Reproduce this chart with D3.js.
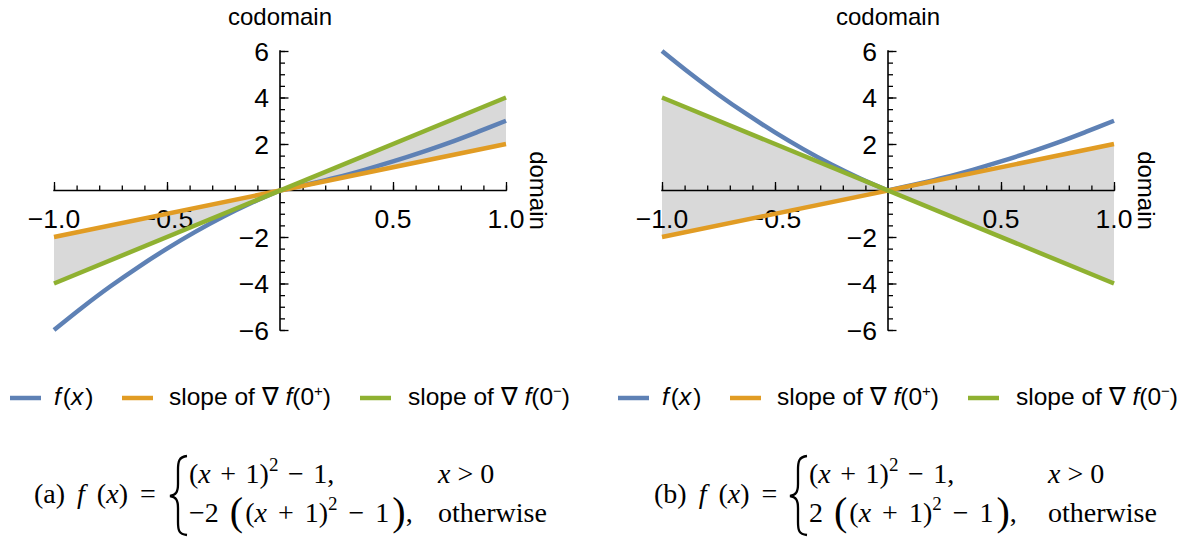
<!DOCTYPE html>
<html>
<head>
<meta charset="utf-8">
<script src="https://cdn.jsdelivr.net/npm/d3@7"></script>
<style>
  body { margin: 0; background: #fff; }
  svg { display: block; }
  .sans { font-family: "Liberation Sans", Arial, sans-serif; }
  .serif { font-family: "Liberation Serif", "Times New Roman", serif; }
</style>
</head>
<body>
<div id="vis"></div>
<script>
const SVG = d3.select("#vis").append("svg");
const WIDTH = 1186, HEIGHT = 537;
SVG.attr("width", WIDTH).attr("height", HEIGHT);

// datos
const xTickMajor = [-1, -0.5, 0.5, 1];
const xTickLabels = ["\u22121.0", "\u22120.5", "0.5", "1.0"];
const xTickMinor = [-1, -0.9, -0.8, -0.7, -0.6, -0.5, -0.4, -0.3, -0.2, -0.1, 0.1, 0.2, 0.3, 0.4, 0.5, 0.6, 0.7, 0.8, 0.9, 1];
const yTickMajor = [-6, -4, -2, 2, 4, 6];
const yTickLabels = ["\u22126", "\u22124", "\u22122", "2", "4", "6"];
const yTickMinor = [-6, -5.5, -5, -4.5, -4, -3.5, -3, -2.5, -2, -1.5, -1, -0.5, 0.5, 1, 1.5, 2, 2.5, 3, 3.5, 4, 4.5, 5, 5.5, 6];

// f(x) muestreada, rama negativa y rama positiva
const fNegX = [-1, -0.875, -0.75, -0.625, -0.5, -0.375, -0.25, -0.125, 0];
const fNegA = [-6, -5.03, -4.12, -3.28, -2.5, -1.78, -1.12, -0.53, 0];
const fNegB = [6, 5.03, 4.12, 3.28, 2.5, 1.78, 1.12, 0.53, 0];
const fPosX = [0, 0.125, 0.25, 0.375, 0.5, 0.625, 0.75, 0.875, 1];
const fPos = [0, 0.27, 0.56, 0.89, 1.25, 1.64, 2.06, 2.52, 3];

// rectas de pendiente (extremos)
const slopeX = [-1, 1];
const slopePlus = [-2, 2];          // naranja, ambos paneles
const slopeMinusA = [-4, 4];        // verde, panel (a)
const slopeMinusB = [4, -4];        // verde, panel (b)

const colors = { f: "#5E81B5", plus: "#E19C24", minus: "#8FB131", fill: "#D9D9D9" };

const panels = [
  { dx: 0, fNeg: fNegA, minus: slopeMinusA, tag: "(a)", coef: "\u22122", capDx: 0, colX: 438 },
  { dx: 608, fNeg: fNegB, minus: slopeMinusB, tag: "(b)", coef: "2", capDx: 620, colX: 428 }
];

const x = d3.scaleLinear().domain([-1, 1]).range([54, 506]);
const y = d3.scaleLinear().domain([-6, 6]).range([330, 51]);

function ticks(sel, axis, vals, size) {
  const t = sel.append("g").call(axis.tickValues(vals).tickSize(size).tickFormat(""));
  t.select(".domain").remove();
  t.selectAll(".tick line").attr("stroke", "#000").attr("stroke-width", 1.3);
}

function drawPanel(p) {
  const g = SVG.append("g").attr("transform", `translate(${p.dx},0)`);

  // area gris entre las dos pendientes
  const area = d3.area()
    .x((d, i) => x(slopeX[i]))
    .y0((d, i) => y(slopePlus[i]))
    .y1((d, i) => y(p.minus[i]));
  g.append("path").datum(slopeX).attr("d", area).attr("fill", colors.fill);

  // eje x
  const ejeX = g.append("g").attr("transform", `translate(0,${y(0)})`);
  ticks(ejeX, d3.axisTop(x), xTickMinor, 5);
  ticks(ejeX, d3.axisTop(x), xTickMajor, 8.5);
  ejeX.append("line").attr("x1", x(-1) - 0.7).attr("x2", x(1) + 0.7).attr("stroke", "#000").attr("stroke-width", 1.6);
  ejeX.selectAll(".xl").data(xTickMajor).join("text")
    .attr("class", "sans xl").attr("x", d => x(d)).attr("y", 37)
    .attr("text-anchor", "middle").attr("font-size", 26.5).attr("fill", "#000")
    .text((d, i) => xTickLabels[i]);

  // eje y
  const ejeY = g.append("g").attr("transform", `translate(${x(0)},0)`);
  ticks(ejeY, d3.axisRight(y), yTickMinor, 5);
  ticks(ejeY, d3.axisRight(y), yTickMajor, 8.5);
  ejeY.append("line").attr("y1", y(-6) + 0.7).attr("y2", y(6) - 0.7).attr("stroke", "#000").attr("stroke-width", 1.6);
  ejeY.selectAll(".yl").data(yTickMajor).join("text")
    .attr("class", "sans yl").attr("x", -11).attr("y", d => y(d)).attr("dy", "0.36em")
    .attr("text-anchor", "end").attr("font-size", 26.5).attr("fill", "#000")
    .text((d, i) => yTickLabels[i]);

  g.append("text").attr("class", "sans").attr("x", x(0)).attr("y", 25)
    .attr("text-anchor", "middle").attr("font-size", 24).text("codomain");
  g.append("text").attr("class", "sans").attr("font-size", 24)
    .attr("text-anchor", "middle")
    .attr("transform", `translate(${x(1) + 24},${y(0)}) rotate(90)`).text("domain");

  // curvas
  const linea = d3.line().curve(d3.curveCatmullRom.alpha(0.5));
  const neg = fNegX.map((v, i) => [x(v), y(p.fNeg[i])]);
  const pos = fPosX.map((v, i) => [x(v), y(fPos[i])]);
  g.append("path").attr("d", linea(neg) + linea(pos))
    .attr("fill", "none").attr("stroke", colors.f).attr("stroke-width", 4.5);
  g.append("path").attr("d", d3.line()(slopeX.map((v, i) => [x(v), y(slopePlus[i])])))
    .attr("fill", "none").attr("stroke", colors.plus).attr("stroke-width", 4.5);
  g.append("path").attr("d", d3.line()(slopeX.map((v, i) => [x(v), y(p.minus[i])])))
    .attr("fill", "none").attr("stroke", colors.minus).attr("stroke-width", 4.5);

  // leyenda
  const ley = g.append("g").attr("class", "sans").attr("font-size", 24.5);
  const items = [
    { x0: 10, tx: 54, c: colors.f },
    { x0: 122, tx: 169, c: colors.plus },
    { x0: 360, tx: 408, c: colors.minus }
  ];
  ley.selectAll("line").data(items).join("line")
    .attr("x1", d => d.x0).attr("x2", d => d.x0 + 31).attr("y1", 398).attr("y2", 398)
    .attr("stroke", d => d.c).attr("stroke-width", 4.5);
  const t1 = ley.append("text").attr("x", items[0].tx).attr("y", 405);
  t1.append("tspan").attr("font-style", "italic").text("f");
  t1.append("tspan").attr("dx", 2).text("(");
  t1.append("tspan").attr("font-style", "italic").text("x");
  t1.append("tspan").attr("dx", 2).text(")");
  [["+", items[1].tx], ["\u2212", items[2].tx]].forEach(([s, tx]) => {
    const t = ley.append("text").attr("x", tx).attr("y", 405);
    t.append("tspan").text("slope of \u2207 ");
    t.append("tspan").attr("font-style", "italic").text("f");
    t.append("tspan").text("(0");
    t.append("tspan").attr("font-size", 15).attr("dy", -9).text(s);
    t.append("tspan").attr("dy", 9).text(")");
  });

  // pie de figura
  const cap = SVG.append("g").attr("class", "serif").attr("font-size", 28).attr("fill", "#000")
    .attr("transform", `translate(${p.capDx},0)`);
  const a = cap.append("text").attr("x", 34).attr("y", 503).attr("word-spacing", 5);
  a.append("tspan").text(p.tag + " ");
  a.append("tspan").attr("font-style", "italic").text("f");
  a.append("tspan").text(" (");
  a.append("tspan").attr("font-style", "italic").text("x");
  a.append("tspan").text(") =");
  cap.append("path")
    .attr("d", "M187,456 C179,457 178,461 178,470 L178,484 C178,492 176,495 170,496 C176,497 178,500 178,508 L178,522 C178,531 179,534 187,535")
    .attr("fill", "none").attr("stroke", "#000").attr("stroke-width", 2.3);
  const r1 = cap.append("text").attr("x", 189).attr("y", 483).attr("word-spacing", 2.5);
  r1.append("tspan").text("(");
  r1.append("tspan").attr("font-style", "italic").text("x");
  r1.append("tspan").text(" + 1)");
  r1.append("tspan").attr("font-size", 19).attr("dy", -12).text("2");
  r1.append("tspan").attr("dy", 12).text(" \u2212 1,");
  const c1 = cap.append("text").attr("x", p.colX).attr("y", 483);
  c1.append("tspan").attr("font-style", "italic").text("x");
  c1.append("tspan").text(" > 0");
  const r2 = cap.append("text").attr("x", 189).attr("y", 522).attr("word-spacing", 4);
  r2.append("tspan").text(p.coef + " ");
  r2.append("tspan").attr("font-size", 40).attr("dy", 3).text("(");
  r2.append("tspan").attr("dy", -3).attr("dx", 2).text("(");
  r2.append("tspan").attr("font-style", "italic").text("x");
  r2.append("tspan").text(" + 1)");
  r2.append("tspan").attr("font-size", 19).attr("dy", -12).text("2");
  r2.append("tspan").attr("dy", 12).text(" \u2212 1");
  r2.append("tspan").attr("font-size", 40).attr("dy", 3).attr("dx", 3).text(")");
  r2.append("tspan").attr("dy", -3).text(",");
  cap.append("text").attr("x", p.colX).attr("y", 522).text("otherwise");
}

panels.forEach(drawPanel);
</script>
</body>
</html>
